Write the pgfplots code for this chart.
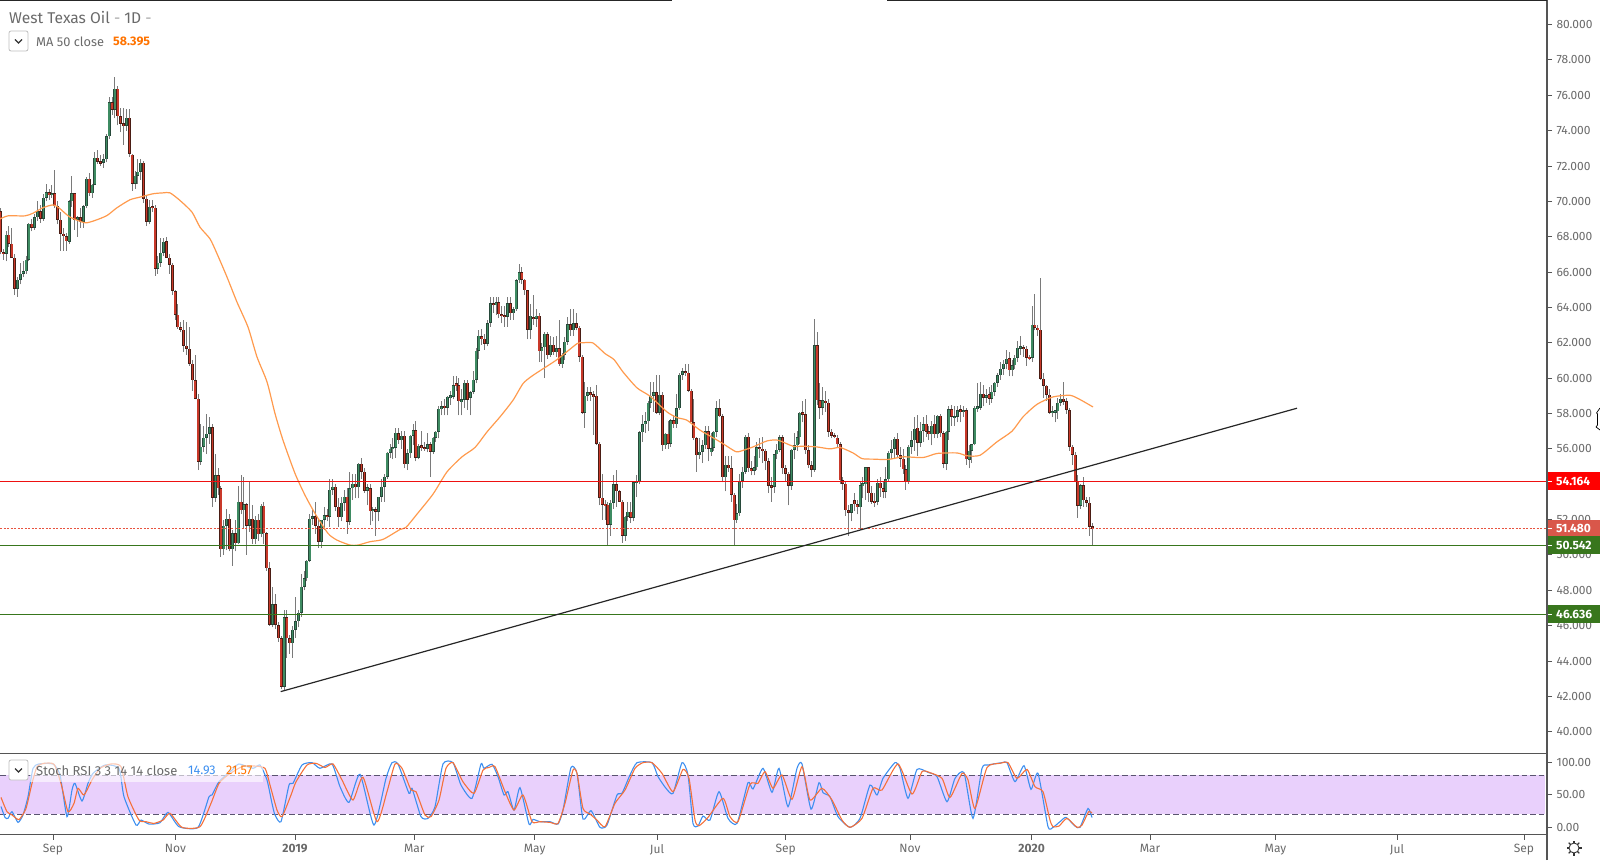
\documentclass[border=0pt]{standalone}
\usepackage{fontspec}
\setmainfont{Fira Sans}
\usepackage{pgfplots}
\usepackage{pgfplotstable}
\pgfplotsset{compat=1.18}
\definecolor{upbody}{HTML}{3E8B62}
\definecolor{upedge}{HTML}{27493A}
\definecolor{dnbody}{HTML}{C9392A}
\definecolor{dnedge}{HTML}{4A1D14}
\definecolor{wick}{HTML}{7A7A7A}
\definecolor{txt}{HTML}{6A6A6A}
\definecolor{axl}{HTML}{555555}
\definecolor{maor}{HTML}{FF9A4D}
\definecolor{kblue}{HTML}{3D8FF0}
\definecolor{dor}{HTML}{F5703A}
\definecolor{band}{HTML}{E9D0FC}
\definecolor{bandl}{HTML}{5A5470}
\definecolor{hgreen}{HTML}{38761D}
\definecolor{hred}{HTML}{EE1111}
\definecolor{hdot}{HTML}{E8533F}
\definecolor{boxdot}{HTML}{D9574A}
\pgfplotstableread{
o h l c
69.45 69.6 67.0 67.13
67.13 67.3 66.7 67.04
67.04 68.3 66.6 68.11
68.11 68.6 67.4 67.6
67.6 68.5 66.8 66.81
66.81 67.0 64.7 65.06
65.06 65.7 64.6 65.57
65.57 66.5 65.3 65.91
65.91 66.6 65.7 66.06
66.06 66.9 65.9 66.7
66.7 68.8 66.6 68.73
68.73 69.0 68.3 68.51
68.51 69.3 68.4 69.11
69.11 70.0 68.9 69.45
69.45 69.8 68.8 69.02
69.02 70.4 68.9 70.2
70.2 71.0 70.0 70.52
70.52 70.7 70.1 70.37
70.37 70.9 70.2 70.46
70.46 71.75 69.6 69.73
69.73 70.0 68.7 68.96
68.96 69.4 67.2 68.17
68.17 68.5 67.2 68.04
68.04 68.2 67.2 67.73
67.73 70.1 67.6 70.01
70.01 71.46 69.7 70.46
70.46 70.5 68.4 68.96
68.96 69.2 68.0 69.11
69.11 69.6 68.5 68.85
68.85 69.8 68.5 69.73
69.73 71.4 69.6 71.27
71.27 71.6 70.3 70.46
70.46 71.0 70.2 70.95
70.95 72.8 70.9 72.46
72.46 72.9 72.1 72.24
72.24 72.6 72.0 72.18
72.18 72.7 71.9 72.37
72.37 73.8 72.2 73.69
73.69 75.9 73.5 75.62
75.62 75.9 74.9 75.19
75.19 77.06 74.7 76.36
76.36 76.5 74.3 74.82
74.82 75.3 73.9 74.38
74.38 75.3 73.2 74.29
74.29 75.2 74.0 74.72
74.72 75.2 72.5 72.69
72.63 72.7 70.6 70.99
70.99 71.7 70.7 71.46
71.46 72.4 71.0 71.67
71.67 72.4 71.2 72.18
72.18 72.3 69.9 70.14
70.14 70.3 68.6 68.85
68.85 70.1 68.7 69.69
69.69 70.1 69.4 69.65
69.65 69.8 65.8 66.19
66.19 66.9 65.9 66.53
66.53 67.9 66.3 67.09
67.09 67.9 66.9 67.73
67.73 68.0 66.9 66.81
66.81 67.0 65.9 66.42
66.42 66.5 64.7 64.93
64.93 65.0 63.3 63.59
63.59 64.2 62.8 62.89
62.89 63.2 62.6 62.74
62.74 63.3 61.5 61.84
61.84 63.2 61.3 61.67
61.67 62.9 60.7 60.82
60.82 61.0 59.3 59.88
59.88 61.3 58.8 58.84
58.84 59.1 54.8 55.27
55.27 57.4 55.1 56.11
56.11 57.3 55.8 56.64
56.64 58.0 55.7 56.87
56.87 57.8 56.3 57.24
57.24 57.4 52.7 53.23
53.23 55.7 53.0 54.51
54.51 54.9 53.4 53.76
53.76 53.9 49.9 50.31
50.31 52.0 50.0 51.65
51.65 52.6 50.3 52.06
52.06 52.3 50.2 50.31
50.31 51.4 49.4 51.22
51.22 52.0 50.2 50.65
50.65 53.9 50.6 53.0
53.0 54.5 52.3 52.54
52.54 54.4 51.5 52.87
52.87 52.95 50.0 51.65
51.65 54.1 51.3 52.06
52.06 52.8 50.6 50.88
50.88 52.2 50.6 52.0
52.0 52.3 50.8 51.18
51.18 52.9 51.0 52.78
52.78 53.0 50.6 51.22
51.22 51.3 49.1 49.24
49.24 49.6 46.0 46.04
46.04 48.2 45.9 47.22
47.22 47.8 45.8 46.04
46.04 46.2 45.1 45.29
45.29 45.4 42.4 42.55
42.55 46.9 42.37 46.47
46.47 46.9 44.2 45.29
45.29 45.5 44.4 45.0
45.0 46.0 44.2 45.76
45.76 47.6 45.3 46.26
46.26 46.9 45.9 46.73
46.73 48.9 46.5 48.2
48.2 49.1 48.0 48.67
48.67 49.7 48.5 49.67
49.67 52.3 49.6 52.06
52.06 52.6 51.7 52.2
52.2 53.0 51.2 51.65
51.65 52.0 50.4 50.75
50.75 52.0 50.4 52.0
52.0 52.7 51.4 52.25
52.25 52.6 51.9 52.16
52.16 54.27 51.6 53.7
53.7 54.3 53.4 53.85
53.85 54.0 52.5 52.72
52.72 53.2 51.6 52.12
52.12 53.3 51.9 52.95
52.95 53.7 52.5 53.29
53.29 53.8 51.2 51.88
51.88 54.7 51.7 53.76
53.76 54.6 53.1 54.04
54.04 54.6 53.2 53.82
53.82 55.2 53.2 55.17
55.17 55.5 54.3 54.7
54.7 54.9 53.5 53.63
53.63 54.0 52.8 53.82
53.76 54.0 51.7 52.48
52.48 52.7 51.9 52.6
52.6 52.7 51.1 52.44
52.44 53.0 51.9 53.29
53.29 54.3 53.0 53.85
53.85 54.6 53.0 54.42
54.42 55.8 54.3 55.77
55.77 56.3 55.5 56.02
56.02 56.6 55.4 56.07
56.07 57.2 55.5 56.9
56.9 57.2 56.3 56.5
56.5 57.0 56.0 56.74
56.74 57.0 54.9 55.12
55.12 56.0 54.8 55.74
55.74 56.8 55.5 56.74
56.74 57.4 56.2 57.06
57.06 57.6 55.3 55.51
55.51 56.3 55.4 56.17
56.17 57.0 55.9 56.08
56.08 56.4 55.9 56.02
56.02 56.9 55.8 56.26
56.26 56.4 54.4 55.85
55.85 56.7 55.7 56.64
56.64 57.0 56.4 56.96
56.96 58.4 56.6 58.28
58.28 58.7 57.9 58.38
58.43 58.8 57.9 58.32
58.32 59.0 57.9 58.94
58.94 59.3 58.5 58.96
58.94 60.1 58.8 59.6
59.66 60.1 59.3 59.6
59.6 60.0 57.9 58.68
58.68 59.4 57.9 58.79
58.79 59.9 58.3 59.73
59.73 59.9 58.2 58.79
58.9 59.3 57.9 59.2
59.22 60.4 59.1 59.92
59.92 61.7 59.7 61.54
61.54 62.7 61.1 62.39
62.35 62.8 61.9 62.23
62.23 62.5 61.6 61.95
61.95 63.3 61.8 63.12
63.12 64.6 62.9 64.25
64.25 64.6 63.7 64.12
64.12 64.6 63.6 64.31
64.31 64.6 63.4 63.61
63.61 64.1 63.1 63.55
63.55 64.1 62.9 63.46
63.46 64.6 62.9 64.25
64.25 64.6 63.3 63.68
63.68 64.0 63.3 63.89
63.89 65.6 63.8 65.53
65.53 66.45 65.4 66.0
66.0 66.3 65.3 65.57
65.57 65.6 64.7 64.97
64.97 65.0 62.2 62.74
62.74 64.2 62.2 63.53
63.46 64.7 63.0 63.35
63.35 63.9 62.9 63.53
63.53 63.7 60.9 61.52
61.52 62.0 60.9 61.75
61.75 62.6 60.0 62.5
62.5 62.6 61.1 61.3
61.3 62.4 61.2 61.9
61.9 62.3 61.3 61.47
61.47 62.4 61.2 61.7
61.7 63.3 60.7 60.8
60.8 61.4 60.6 61.33
61.33 62.3 61.0 62.05
62.05 63.46 61.9 63.05
63.05 63.9 62.4 62.7
62.7 63.9 62.4 63.1
63.1 63.7 62.7 62.85
62.85 62.95 60.9 61.2
61.2 61.3 58.0 58.05
58.05 59.8 57.2 59.0
59.0 59.5 58.7 59.2
59.2 59.5 58.7 59.03
59.03 59.3 56.8 59.0
59.0 59.6 56.2 56.3
56.3 56.4 52.8 53.25
53.25 54.6 52.0 52.85
52.85 53.1 52.0 52.82
52.85 53.0 50.56 51.7
51.7 53.1 51.1 52.95
52.95 54.5 52.6 54.0
54.0 54.8 52.7 53.6
53.6 53.7 53.0 53.0
53.0 53.1 50.7 51.1
51.1 52.2 50.8 52.15
52.15 53.0 51.9 52.45
52.45 53.0 51.8 52.1
52.1 54.2 51.9 54.1
54.1 54.5 53.3 54.15
54.15 57.0 54.0 56.95
56.95 57.9 56.4 57.4
57.4 58.1 56.9 57.55
57.55 58.7 57.0 58.6
58.6 59.8 58.3 59.0
59.0 59.8 58.1 59.2
59.2 60.2 58.0 58.05
58.05 60.2 57.9 59.07
59.07 59.2 55.9 56.2
56.2 56.9 56.0 56.85
56.85 57.6 56.0 56.3
56.3 57.7 56.1 57.62
57.62 57.9 57.2 57.4
57.4 59.1 57.2 58.3
58.3 60.3 58.2 60.2
60.2 60.6 59.9 60.4
60.4 60.8 60.1 60.3
60.3 60.8 59.2 59.3
59.3 59.4 57.5 57.5
57.5 58.8 56.5 56.6
56.6 56.7 54.7 55.65
55.65 56.6 55.4 55.85
55.85 56.5 55.2 56.2
56.2 57.3 56.0 57.0
57.0 57.3 55.3 56.0
55.8 56.9 55.6 56.05
56.05 57.0 55.9 56.96
56.96 58.7 56.7 58.3
58.3 58.8 57.8 57.85
57.85 58.0 54.1 54.4
54.4 55.6 53.6 55.1
55.1 55.6 54.7 54.9
54.9 55.6 53.0 53.4
53.4 53.5 50.53 51.95
51.95 52.9 51.8 52.35
52.35 54.6 52.2 54.2
54.2 55.0 53.8 54.7
54.7 56.8 54.6 56.7
56.7 56.9 54.7 54.9
54.9 55.3 54.5 54.75
54.75 55.6 54.5 54.95
54.95 56.4 54.8 56.1
56.1 56.6 55.5 56.0
56.0 56.7 55.2 55.9
55.9 56.0 54.8 55.3
55.3 55.5 53.5 53.9
53.9 54.4 53.0 53.85
53.85 55.7 53.5 55.7
55.7 56.3 55.4 55.95
55.95 56.8 55.8 56.65
56.65 56.8 54.6 54.9
54.9 55.1 54.2 54.6
54.6 54.7 52.8 53.9
53.9 56.0 53.7 55.95
55.95 56.9 55.4 56.2
56.2 57.0 55.9 56.65
56.65 58.1 56.3 58.05
58.05 58.7 57.5 57.96
57.96 58.8 55.7 55.93
55.93 56.2 54.9 55.08
55.08 55.3 54.4 54.83
54.83 63.36 54.7 61.86
61.86 62.6 58.5 58.75
58.75 59.7 57.7 58.32
58.32 59.5 57.9 58.75
58.72 59.3 58.1 58.6
58.6 58.8 56.7 56.96
56.96 57.1 56.6 56.75
56.75 56.9 56.6 56.68
56.64 56.8 56.1 56.25
56.25 56.4 54.0 54.23
54.23 54.4 53.7 54.04
54.04 54.2 52.2 52.54
52.54 52.8 51.1 52.38
52.38 52.9 51.9 52.86
53.1 53.5 52.5 52.86
52.86 53.1 52.3 52.69
52.69 54.1 51.4 53.95
53.95 54.4 53.2 54.0
54.0 55.0 53.1 54.95
54.95 55.0 53.0 53.48
53.53 53.9 52.9 53.01
53.01 53.5 52.7 53.0
53.0 54.3 52.8 54.08
54.08 54.4 53.3 53.76
53.76 54.1 53.2 53.57
53.57 55.0 53.2 54.27
54.27 55.9 54.2 55.79
55.79 56.5 55.4 56.02
56.02 56.7 55.4 56.58
56.58 56.9 55.5 55.64
55.64 56.1 55.0 55.44
55.44 56.0 54.6 54.85
54.85 55.1 53.7 54.14
54.14 56.2 54.0 56.11
56.11 57.0 55.7 56.49
56.49 57.8 55.9 57.15
57.19 57.9 55.6 56.34
56.34 57.5 56.1 57.02
57.02 57.8 56.4 57.38
57.43 57.9 56.7 56.96
56.96 57.3 56.5 56.87
56.83 57.6 56.2 57.3
57.43 57.9 56.6 56.83
56.83 57.9 56.6 57.87
57.87 58.0 56.7 56.87
56.87 57.0 54.9 55.17
55.17 57.0 54.8 56.96
56.96 58.4 56.5 58.24
58.24 58.5 57.3 57.81
57.81 58.4 57.3 57.81
57.81 58.4 57.5 58.2
58.24 58.5 57.5 58.09
58.09 58.4 57.8 58.2
58.2 58.3 55.1 55.4
55.4 56.2 54.9 55.89
55.89 56.3 55.2 56.26
56.26 58.4 56.2 58.34
58.34 59.7 58.1 58.34
58.34 59.8 58.2 59.13
59.13 59.6 58.4 58.9
58.9 59.4 58.6 59.05
59.09 59.5 58.5 58.84
58.84 59.6 58.6 59.22
59.22 59.8 59.0 59.73
59.73 60.3 59.5 60.16
60.16 60.9 59.9 60.54
60.54 61.0 60.2 60.82
60.82 61.6 60.5 61.1
61.14 61.5 60.1 60.45
60.45 61.0 60.1 60.73
60.73 61.3 60.5 61.16
61.16 62.1 60.9 61.73
61.73 62.4 61.3 61.76
61.73 61.9 61.2 61.67
61.67 61.8 60.7 61.16
61.16 61.3 61.0 61.14
61.14 64.1 60.9 63.03
63.03 64.78 62.7 62.84
62.84 63.0 62.4 62.74
62.74 65.65 59.9 59.97
59.97 60.3 58.9 59.56
59.56 59.6 58.7 59.07
59.07 59.4 58.0 58.05
58.05 58.4 57.8 58.1
58.1 58.2 57.5 58.13
58.13 58.9 57.7 58.6
58.6 59.1 58.4 58.84
58.84 59.8 58.5 58.66
58.7 58.9 58.0 58.2
58.2 58.3 55.9 56.11
56.11 56.2 55.1 55.68
55.68 55.8 54.1 54.14
54.14 54.5 52.1 52.78
52.78 54.0 52.6 53.95
53.95 54.4 52.7 53.1
53.1 53.3 52.7 52.95
52.95 53.3 51.1 51.59
51.59 51.8 50.54 51.5
}\candles
\pgfplotsset{
  candle/.style={draw=none,no markers,forget plot,
    error bars/y dir=both,error bars/y explicit,error bars/error mark=none,
    error bars/error mark options={mark size=0pt,draw=none,fill=none}},
}
\newcommand{\ox}{0.3+2.866*\coordindex}
\begin{document}
\begin{tikzpicture}[x=1pt,y=1pt]
\path[use as bounding box] (0,0) rectangle (1600,860);
\begin{axis}[
  at={(0pt,106.5pt)},anchor=south west,scale only axis,
  width=1547pt,height=753.5pt,
  xmin=0,xmax=1547,ymin=38.77,ymax=81.39,
  axis x line*=bottom,axis y line*=right,
  axis line style={draw=axl,line width=1.2pt,-},
  xtick=\empty,
  ytick={40,42,...,80},
  tick style={draw=axl,line width=1pt},
  major tick length=5pt,
  tick align=outside,
  yticklabel style={font=\fontsize{12}{14}\selectfont,text=txt,xshift=1pt,
    /pgf/number format/.cd,fixed,fixed zerofill,precision=3,1000 sep={},assume math mode=true},
]
% wicks
\addplot[candle,error bars/y dir=plus,error bars/error bar style={line width=1pt,draw=wick}]
  table[x expr=\ox,y=l,y error plus expr={\thisrow{h}-\thisrow{l}},y error minus expr=0] {\candles};
% up bodies
\addplot[candle,error bars/error bar style={line width=3pt,draw=upedge}]
  table[x expr=\ox,y expr={\thisrow{c}>=\thisrow{o} ? (\thisrow{o}+\thisrow{c})/2 : nan},
    y error expr={max(abs(\thisrow{c}-\thisrow{o})/2,0.07)}] {\candles};
\addplot[candle,error bars/error bar style={line width=1.5pt,draw=upbody}]
  table[x expr=\ox,y expr={\thisrow{c}>=\thisrow{o} ? (\thisrow{o}+\thisrow{c})/2 : nan},
    y error expr={max(abs(\thisrow{c}-\thisrow{o})/2-0.03,0.02)}] {\candles};
% down bodies
\addplot[candle,error bars/error bar style={line width=3pt,draw=dnedge}]
  table[x expr=\ox,y expr={\thisrow{c}<\thisrow{o} ? (\thisrow{o}+\thisrow{c})/2 : nan},
    y error expr={max(abs(\thisrow{c}-\thisrow{o})/2,0.07)}] {\candles};
\addplot[candle,error bars/error bar style={line width=1.5pt,draw=dnbody}]
  table[x expr=\ox,y expr={\thisrow{c}<\thisrow{o} ? (\thisrow{o}+\thisrow{c})/2 : nan},
    y error expr={max(abs(\thisrow{c}-\thisrow{o})/2-0.03,0.02)}] {\candles};
% MA 50
\addplot[maor,line width=1.2pt,no marks,smooth,tension=0.4] coordinates {
(0,69.0)(8,69.18)(25,69.18)(33,69.33)(43,69.64)(53,69.8)(59,69.63)(70,69.11)(85,68.79)(95,68.92)(107,69.2)(117,69.64)(130,70.09)(140,70.24)(153,70.43)(163,70.48)(170,70.48)(180,70.05)(192,69.39)(200,68.54)(210,67.88)(217,67.04)(227,65.72)(237,64.3)(248,62.89)(257,61.2)(267,59.79)(275,58.0)(283,56.49)(295,54.61)(305,53.38)(315,52.35)(328,51.22)(337,50.84)(350,50.56)(358,50.56)(370,50.75)(383,50.88)(400,51.44)(406,51.56)(417,52.31)(433,53.44)(447,54.7)(462,55.55)(475,56.08)(487,56.96)(500,57.81)(513,58.75)(523,59.69)(533,60.16)(557,61.05)(577,61.95)(583,62.0)(593,61.99)(605,61.39)(614,61.05)(623,60.35)(637,59.45)(650,58.98)(667,58.09)(677,57.77)(687,57.62)(700,57.06)(720,56.4)(733,55.93)(738,55.83)(753,56.11)(767,56.45)(778,56.49)(793,56.15)(803,56.15)(817,56.11)(830,56.0)(840,56.08)(853,55.77)(862,55.45)(873,55.42)(888,55.4)(903,55.55)(923,55.51)(937,55.74)(957,55.77)(967,55.61)(980,55.64)(997,56.4)(1012,57.0)(1023,57.81)(1037,58.52)(1053,58.94)(1070,59.03)(1080,58.79)(1093,58.37)};
% levels
\addplot[hred,line width=1.2pt] coordinates {(0,54.164)(1547,54.164)};
\addplot[hdot,line width=1pt,dash pattern=on 2pt off 1.5pt] coordinates {(0,51.480)(1547,51.480)};
\addplot[hgreen,line width=1.2pt] coordinates {(0,50.542)(1547,50.542)};
\addplot[hgreen,line width=1.2pt] coordinates {(0,46.636)(1547,46.636)};
\addplot[black!85,line width=1.2pt] coordinates {(280.7,42.27)(1297,58.3)};
\end{axis}
\begin{axis}[
  at={(0pt,25.5pt)},anchor=south west,scale only axis,
  width=1547pt,height=81pt,
  xmin=0,xmax=1547,ymin=-11,ymax=113.5,
  axis x line*=bottom,axis y line*=right,
  axis line style={draw=axl,line width=1.2pt,-},
  xtick={53,175.5,295,414.3,534.7,657,785.7,910,1031.6,1150,1275.5,1397,1524},
  xticklabels={Sep,Nov,\textbf{2019},Mar,May,Jul,Sep,Nov,\textbf{2020},Mar,May,Jul,Sep},
  ytick={0,50,100},
  tick style={draw=axl,line width=1pt},
  major tick length=5pt,
  tick align=outside,
  xticklabel style={font=\fontsize{12}{14}\selectfont,text=txt,yshift=-1pt},
  yticklabel style={font=\fontsize{12}{14}\selectfont,text=txt,xshift=1pt,
    /pgf/number format/.cd,fixed,fixed zerofill,precision=2,assume math mode=true},
]
\addplot[fill=band,draw=none] coordinates {(0,20)(1545,20)(1545,80)(0,80)} -- cycle;
\addplot[bandl,line width=1pt,dash pattern=on 5.5pt off 3pt] coordinates {(0,80)(1547,80)};
\addplot[bandl,line width=1pt,dash pattern=on 5.5pt off 3pt] coordinates {(0,20)(1547,20)};
\addplot[kblue,line width=1.1pt,no marks,smooth,tension=0.35] coordinates {
(1,32)(5,15.3)(8,13.8)(12,24)(18,7.6)(23,19)(28,47)(33,90.7)(39,97.4)(53,97.4)(60,80.5)(67,16.4)(72,57.4)(75,67.6)(82,40.5)(88,67.6)(93,83)(105,95.8)(119,90.7)(124,47)(136,3.5)(141,11.2)(149,5)(160,7.1)(168,23)(179,1)(198,0)(209,47)(212,49.7)(219,70.2)(232,88)(239,97.4)(253,90.7)(260,95.8)(267,72.8)(272,36.9)(275,19)(281,8.7)(289,65)(293,67.6)(302,95.8)(312,99.4)(320,90.7)(332,97.4)(340,62.5)(349,38.4)(360,81.5)(374,3.5)(386,75.3)(392,99.4)(398,97.4)(409,52.2)(412,60)(421,16.4)(428,13.8)(435,31.7)(443,97.4)(453,99.4)(461,65)(472,44.6)(481,97.4)(484,90.7)(492,96.9)(498,77.9)(504,49.7)(508,54.8)(514,26.6)(520,61)(529,5)(533,12.2)(540,8.7)(550,8.7)(558,5)(563,26.6)(571,92)(577,83)(583,12.8)(591,25.6)(600,0)(607,3.5)(617,49.7)(622,52.2)(630,80.5)(637,99.4)(652,99.4)(658,78)(666,60)(673,52.2)(682,99.4)(688,80.5)(693,6)(698,2)(703,17.4)(710,11.2)(719,54.8)(728,13.8)(737,6)(748,68.7)(753,59)(763,90.7)(772,53.8)(779,90.7)(788,31.7)(797,90.7)(802,97.4)(811,28)(819,68.7)(823,53.3)(830,47)(838,16.4)(850,0)(860,13.8)(870,65)(877,49.7)(883,75.3)(895,99.4)(900,90.7)(908,44.6)(917,89)(928,84.5)(937,77.9)(947,39.4)(955,75.3)(964,84)(973,13.8)(982,90.7)(988,95.8)(1002,99.4)(1007,99.4)(1015,70.2)(1024,94.8)(1031,58.4)(1038,83)(1048,1)(1053,0)(1060,8.7)(1066,15.3)(1075,2)(1080,0)(1088,29)(1092,15)};
\addplot[dor,line width=1.1pt,no marks,smooth,tension=0.35] coordinates {
(1,46)(7,24)(12,19)(19,12)(26,29)(32,67.6)(37,93)(44,98.4)(54,96.9)(61,67.6)(68,24)(74,36.9)(78,60)(84,49.7)(92,72.8)(100,90.7)(111,97.4)(121,93.3)(128,47)(139,11.2)(146,8.7)(154,6.1)(163,11.2)(170,21.5)(182,0)(200,1)(211,36.9)(219,67.6)(228,80.5)(242,93.3)(254,94.3)(265,90.7)(270,65)(277,26.6)(282,16.4)(291,49.7)(296,70)(307,95.8)(316,98.4)(325,92)(333,97.4)(342,72.8)(353,42)(363,76.9)(377,8.7)(387,54.8)(395,97.4)(402,90.7)(411,57.4)(416,54.8)(425,18.9)(431,16.4)(439,42)(446,90.7)(453,99.4)(463,70)(474,52.2)(483,88)(489,92)(495,93.3)(505,54.8)(514,26.6)(523,49.7)(532,8.7)(540,8.7)(550,7.6)(558,6)(565,37)(573,88)(577,83)(583,29)(590,20.5)(597,11.2)(605,1)(615,37)(625,57.4)(635,90.7)(643,99.4)(652,99.4)(662,83)(673,54.8)(683,89)(689,75.3)(695,11.2)(699,2.5)(708,15.3)(723,44.6)(730,16.4)(738,8.7)(750,66.1)(758,67.6)(765,85.6)(773,60)(782,80.5)(792,43)(802,93.3)(810,42)(822,60)(832,42)(842,11.2)(850,0)(862,13.8)(873,60)(882,57.4)(898,97.4)(912,51.2)(922,85.6)(930,84)(942,75.3)(950,46)(962,83)(968,72.8)(975,29)(987,92)(1000,98.4)(1008,99.4)(1017,75.3)(1027,89)(1035,62.5)(1043,54.8)(1050,11)(1053,1)(1059,2)(1067,13.8)(1077,0)(1082,3.5)(1088.6,24)(1092,22)};
\end{axis}
% frame lines
\draw[axl,line width=1.2pt] (1547,0) -- (1547,860);
\draw[black!85,line width=2pt] (0,860) -- (672,860);
\draw[black!85,line width=2pt] (887,860) -- (1547,860);
% price labels
\foreach \py/\col/\lab in {481.2/red/54.164,528.7/boxdot/51.480,545.3/hgreen/50.542,614.4/hgreen/46.636}{
  \fill[\col] (1547.6,860-\py-9) rectangle (1600,860-\py+9);
  \draw[white,line width=1pt] (1547.6,860-\py) -- (1552,860-\py);
  \node[anchor=west,inner sep=0pt,text=white,font=\fontsize{12}{14}\selectfont\bfseries] at (1556,860-\py) {\lab};
}
% legend top
\node[anchor=west,inner sep=0pt,text=txt,font=\fontsize{15.6}{17}\selectfont] at (9,842.5) {West Texas Oil \textcolor{txt!60}{-} 1D \textcolor{txt!60}{-}};
\draw[black!25,fill=white,rounded corners=2pt,line width=0.8pt] (9,809) rectangle (28,829);
\draw[black!80,line width=1.1pt] (15,820.5) -- (18.5,817) -- (22,820.5);
\node[anchor=west,inner sep=0pt,text=txt,font=\fontsize{12.8}{14}\selectfont] at (36,818.5) {MA 50 close};
\node[anchor=west,inner sep=0pt,text=orange!90!red,font=\fontsize{12.4}{14}\selectfont\bfseries] at (113,818.5) {58.395};
% legend stoch
\fill[white,opacity=0.6] (30,78.5) rectangle (263,102);
\draw[black!25,fill=white,rounded corners=2pt,line width=0.8pt] (9,80) rectangle (28,100);
\draw[black!80,line width=1.1pt] (15,91.5) -- (18.5,88) -- (22,91.5);
\node[anchor=west,inner sep=0pt,text=txt,font=\fontsize{13}{14}\selectfont] at (36,89.5) {Stoch RSI 3 3 14 14 close};
\node[anchor=west,inner sep=0pt,text=kblue,font=\fontsize{12.6}{14}\selectfont] at (188,89.5) {14.93};
\node[anchor=west,inner sep=0pt,text=orange!90!red,font=\fontsize{12.6}{14}\selectfont] at (226,89.5) {21.57};
% gear
\draw[black!80,line width=0.9pt] (1574,12) circle (5);
\foreach \a in {0,45,...,315}{\draw[black!80,line width=1.1pt] (1574,12) ++(\a:5) -- ++(\a:2.5);}
% cursor at the edge
\draw[black,fill=white,line width=0.7pt] (1600,452) -- (1596.5,447) -- (1597.5,446) -- (1597.5,435) -- (1596,433) -- (1600,430);
\end{tikzpicture}
\end{document}
